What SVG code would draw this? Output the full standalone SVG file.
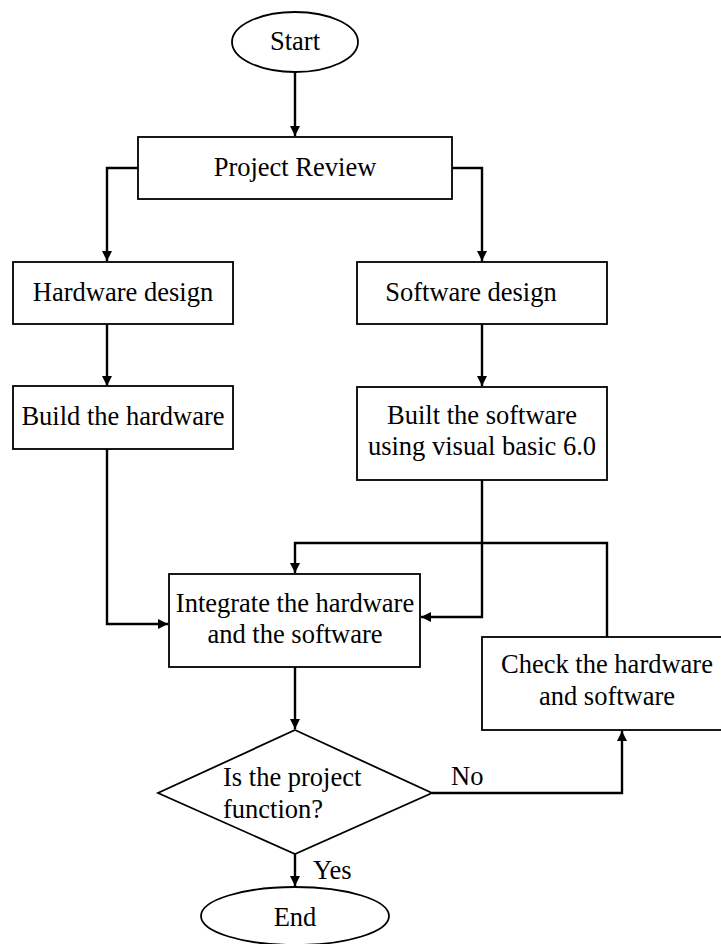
<svg xmlns="http://www.w3.org/2000/svg" width="721" height="944" viewBox="0 0 721 944">
<defs>
<marker id="arr" viewBox="0 0 10 10" refX="10" refY="5" markerWidth="10" markerHeight="10" markerUnits="userSpaceOnUse" orient="auto">
<path d="M0,0 L10,5 L0,10 Z" fill="#000"/>
</marker>
<style>
.n{fill:#fff;stroke:#000;stroke-width:1.8}
.t{font-family:"Liberation Serif","Times New Roman",serif;font-size:26.5px;fill:#000;text-anchor:middle}
.l{font-family:"Liberation Serif","Times New Roman",serif;font-size:26.5px;fill:#000}
.c{fill:none;stroke:#000;stroke-width:2.4}
</style>
</defs>
<rect width="721" height="944" fill="#fff"/>
<g id="connectors">
<path class="c" d="M295,72 V136" marker-end="url(#arr)"/>
<path class="c" d="M138,168 H107 V261" marker-end="url(#arr)"/>
<path class="c" d="M452,168 H482 V261" marker-end="url(#arr)"/>
<path class="c" d="M107,324 V386" marker-end="url(#arr)"/>
<path class="c" d="M482,324 V386" marker-end="url(#arr)"/>
<path class="c" d="M107,449 V624 H168" marker-end="url(#arr)"/>
<path class="c" d="M482,480 V617 H421" marker-end="url(#arr)"/>
<path class="c" d="M607,637 V543 H295 V573" marker-end="url(#arr)"/>
<path class="c" d="M295,667 V729" marker-end="url(#arr)"/>
<path class="c" d="M432,793 H622 V731" marker-end="url(#arr)"/>
<path class="c" d="M295,854 V886" marker-end="url(#arr)"/>
<text class="l" x="451" y="785">No</text>
<text class="l" x="313" y="879">Yes</text>
</g>
<g id="start">
<ellipse class="n" cx="295" cy="42" rx="63" ry="30"/>
<text class="t" x="295" y="50">Start</text>
</g>
<g id="review">
<rect class="n" x="138" y="137" width="314" height="62"/>
<text class="t" x="295" y="176">Project Review</text>
</g>
<g id="hwdesign">
<rect class="n" x="13" y="262" width="220" height="62"/>
<text class="t" x="123" y="301">Hardware design</text>
</g>
<g id="swdesign">
<rect class="n" x="357" y="262" width="250" height="62"/>
<text class="t" x="471" y="301">Software design</text>
</g>
<g id="buildhw">
<rect class="n" x="13" y="386" width="220" height="63"/>
<text class="t" x="123" y="425">Build the hardware</text>
</g>
<g id="buildsw">
<rect class="n" x="357" y="387" width="250" height="93"/>
<text class="t" x="482" y="424">Built the software</text>
<text class="t" x="482" y="455">using visual basic 6.0</text>
</g>
<g id="integrate">
<rect class="n" x="169" y="574" width="251" height="93"/>
<text class="t" x="295" y="612">Integrate the hardware</text>
<text class="t" x="295" y="643">and the software</text>
</g>
<g id="check">
<rect class="n" x="482" y="637" width="250" height="93"/>
<text class="t" x="607" y="673">Check the hardware</text>
<text class="t" x="607" y="705">and software</text>
</g>
<g id="decision">
<polygon class="n" points="295,730 432,793 295,854 158,793"/>
<text class="l" x="223" y="786">Is the project</text>
<text class="l" x="223" y="818">function?</text>
</g>
<g id="end">
<ellipse class="n" cx="295" cy="916" rx="94" ry="29"/>
<text class="t" x="295" y="926">End</text>
</g>
</svg>
